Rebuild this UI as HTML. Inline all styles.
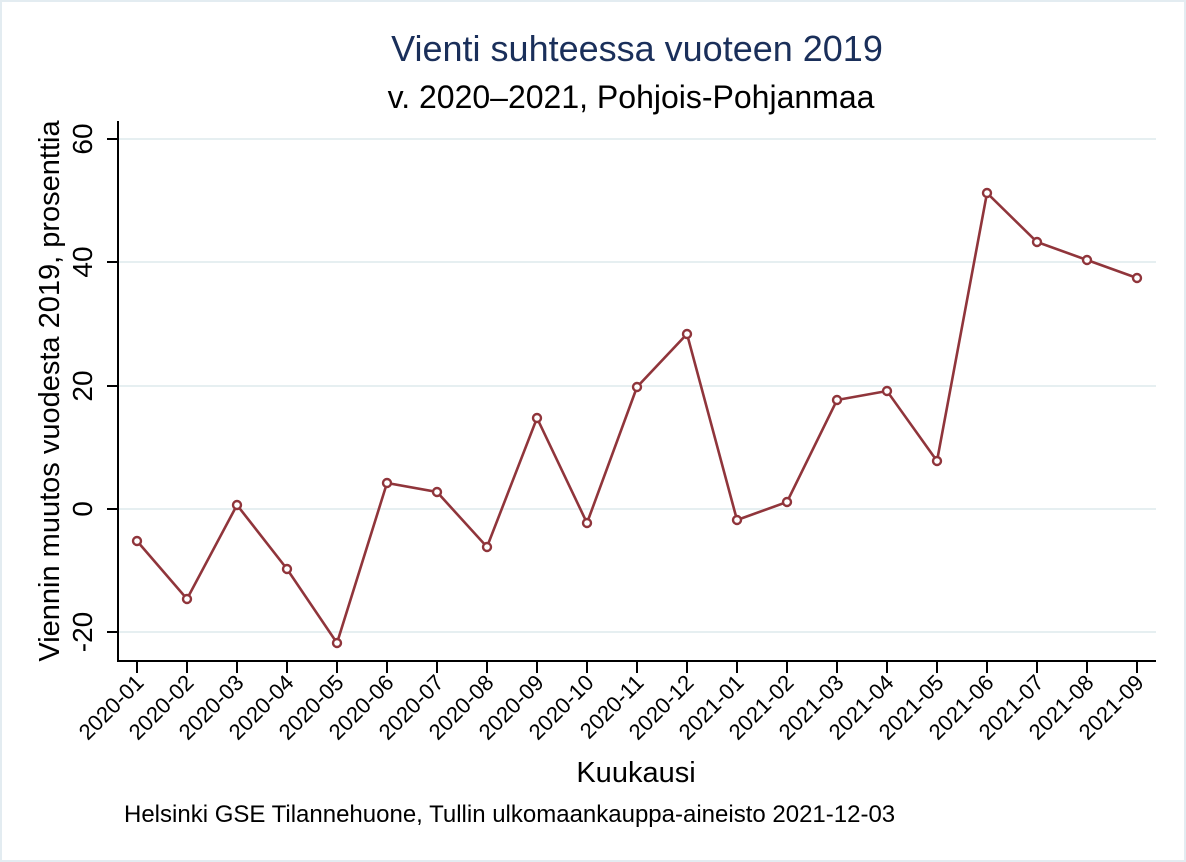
<!DOCTYPE html>
<html><head><meta charset="utf-8"><style>
body{margin:0;background:#fff}
svg{display:block;font-family:"Liberation Sans",Arial,sans-serif}
</style></head><body>
<svg width="1186" height="862" viewBox="0 0 1186 862" xmlns="http://www.w3.org/2000/svg">
<rect x="0" y="0" width="1186" height="862" fill="#fff"/>
<rect x="1" y="1" width="1184" height="860" fill="none" stroke="#e3ecf1" stroke-width="2"/>
<text x="637" y="61" font-size="36" fill="#1a2f5a" text-anchor="middle">Vienti suhteessa vuoteen 2019</text>
<text x="631" y="108" font-size="32" fill="#000" text-anchor="middle">v. 2020–2021, Pohjois-Pohjanmaa</text>
<g stroke="#e6eff1" stroke-width="2">
<line x1="119" y1="139" x2="1156" y2="139"/>
<line x1="119" y1="262" x2="1156" y2="262"/>
<line x1="119" y1="386" x2="1156" y2="386"/>
<line x1="119" y1="509" x2="1156" y2="509"/>
<line x1="119" y1="632" x2="1156" y2="632"/>
</g>
<g stroke="#000" stroke-width="2">
<line x1="118" y1="121" x2="118" y2="662"/>
<line x1="117" y1="661" x2="1156" y2="661"/>
<line x1="107" y1="139" x2="118" y2="139"/>
<line x1="107" y1="262" x2="118" y2="262"/>
<line x1="107" y1="386" x2="118" y2="386"/>
<line x1="107" y1="509" x2="118" y2="509"/>
<line x1="107" y1="632" x2="118" y2="632"/>
</g>
<g font-size="28" text-anchor="middle" fill="#000">
<text transform="translate(92,139) rotate(-90)">60</text>
<text transform="translate(92,262) rotate(-90)">40</text>
<text transform="translate(92,386) rotate(-90)">20</text>
<text transform="translate(92,509) rotate(-90)">0</text>
<text transform="translate(92,632) rotate(-90)">-20</text>
<text transform="translate(59,391) rotate(-90)" font-size="29">Viennin muutos vuodesta 2019, prosenttia</text>
</g>
<g id="xt" stroke="#000" stroke-width="2"></g>
<script>
(function(){
var labs=["2020-01","2020-02","2020-03","2020-04","2020-05","2020-06","2020-07","2020-08","2020-09","2020-10","2020-11","2020-12","2021-01","2021-02","2021-03","2021-04","2021-05","2021-06","2021-07","2021-08","2021-09"];
var ys=[541,599,505,569,643,483,492,547,418,523,387,334,520,502,400,391,461,193,242,260,278];
var ns="http://www.w3.org/2000/svg";var svg=document.querySelector("svg");
var g=document.getElementById("xt");
var pts=[];
for(var i=0;i<21;i++){var x=137+i*50;
var l=document.createElementNS(ns,"line");l.setAttribute("x1",x);l.setAttribute("x2",x);l.setAttribute("y1",661);l.setAttribute("y2",673);g.appendChild(l);
var t=document.createElementNS(ns,"text");t.setAttribute("transform","translate("+(x+8)+",684) rotate(-45)");t.setAttribute("font-size","22");t.setAttribute("text-anchor","end");t.textContent=labs[i];svg.appendChild(t);
pts.push(x+","+ys[i]);}
var pl=document.createElementNS(ns,"polyline");pl.setAttribute("points",pts.join(" "));pl.setAttribute("fill","none");pl.setAttribute("stroke","#90353b");pl.setAttribute("stroke-width","2.6");svg.appendChild(pl);
for(var i=0;i<21;i++){var c=document.createElementNS(ns,"circle");c.setAttribute("cx",137+i*50);c.setAttribute("cy",ys[i]);c.setAttribute("r","4");c.setAttribute("fill","#fff");c.setAttribute("stroke","#90353b");c.setAttribute("stroke-width","2.4");svg.appendChild(c);}
})();
</script>
<text x="636" y="782" font-size="29" text-anchor="middle" fill="#000">Kuukausi</text>
<text x="124" y="822" font-size="24" fill="#000">Helsinki GSE Tilannehuone, Tullin ulkomaankauppa-aineisto 2021-12-03</text>
</svg>
</body></html>
